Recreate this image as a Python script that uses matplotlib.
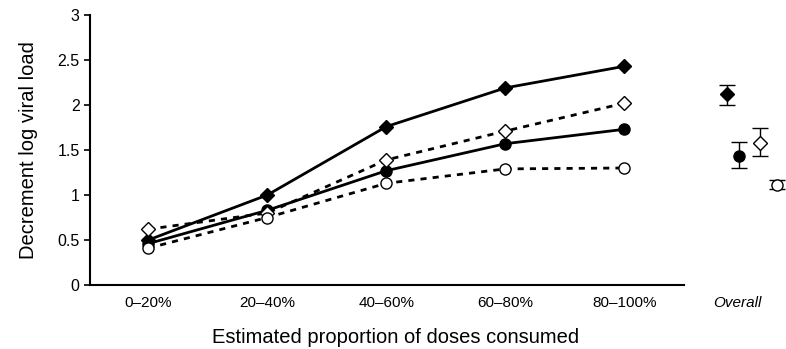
import numpy as np
import matplotlib.pyplot as plt

plt.rcParams['font.family'] = ['Liberation Sans', 'DejaVu Sans']

categories = ['0–20%', '20–40%', '40–60%', '60–80%', '80–100%']

# series: filled diamond, open diamond, filled circle, open circle
fill_diamond = [0.50, 1.00, 1.76, 2.19, 2.43]
open_diamond = [0.62, 0.80, 1.39, 1.71, 2.02]
fill_circle = [0.46, 0.83, 1.27, 1.57, 1.73]
open_circle = [0.41, 0.75, 1.13, 1.29, 1.30]

# overall estimates with error bars (value, low, high)
overall_pos = [4.86, 4.96, 5.14, 5.28]
overall_val = [2.12, 1.43, 1.58, 1.11]
overall_lo = [2.00, 1.30, 1.43, 1.07]
overall_hi = [2.22, 1.59, 1.75, 1.17]
overall_marker = ['D', 'o', 'D', 'o']
overall_face = ['black', 'black', 'white', 'white']

fig = plt.figure(figsize=(7.86, 3.49), dpi=100)
ax = fig.add_axes([90 / 786, 1 - 285 / 349, (785 - 90) / 786, 270 / 349])

x = np.arange(len(categories))
ax.plot(x, fill_diamond, '-', color='black', lw=2, marker='D', ms=7,
        mfc='black', mec='black', zorder=3)
ax.plot(x, fill_circle, '-', color='black', lw=2, marker='o', ms=8,
        mfc='black', mec='black', zorder=3)
ax.plot(x, open_diamond, '--', color='black', lw=2, dashes=(2.2, 2.2),
        marker='D', ms=7, mfc='white', mec='black', mew=1, zorder=4)
ax.plot(x, open_circle, '--', color='black', lw=2, dashes=(2.2, 2.2),
        marker='o', ms=8, mfc='white', mec='black', mew=1, zorder=4)

for p, v, lo, hi, m, fc in zip(overall_pos, overall_val, overall_lo,
                               overall_hi, overall_marker, overall_face):
    ax.errorbar([p], [v], yerr=[[v - lo], [hi - v]], fmt=m, color='black',
                mfc=fc, mec='black', ms=8 if m == 'o' else 7, mew=1,
                elinewidth=1, capsize=6, capthick=1, clip_on=False)

ax.set_xlim(-0.49, 5.35)
ax.set_ylim(0, 3)
ax.set_yticks([0, 0.5, 1, 1.5, 2, 2.5, 3])
ax.set_yticklabels(['0', '0.5', '1', '1.5', '2', '2.5', '3'])
ax.set_xticks(list(x) + [4.95])
ax.set_xticklabels(categories + ['Overall'])
ax.get_xticklabels()[-1].set_style('italic')
ax.tick_params(axis='x', length=0, pad=8, labelsize=11)
ax.tick_params(axis='y', direction='out', length=4, width=1.2, labelsize=11.5)

ax.spines['top'].set_visible(False)
ax.spines['right'].set_visible(False)
ax.spines['bottom'].set_bounds(-0.49, 4.5)
ax.spines['left'].set_linewidth(1.5)
ax.spines['bottom'].set_linewidth(1.5)

ax.set_xlabel('Estimated proportion of doses consumed', fontsize=14.5)
ax.xaxis.set_label_coords(0.44, -0.16)
ax.set_ylabel('Decrement log viral load', fontsize=14.5, labelpad=14)

fig.savefig('out.png', dpi=100)
